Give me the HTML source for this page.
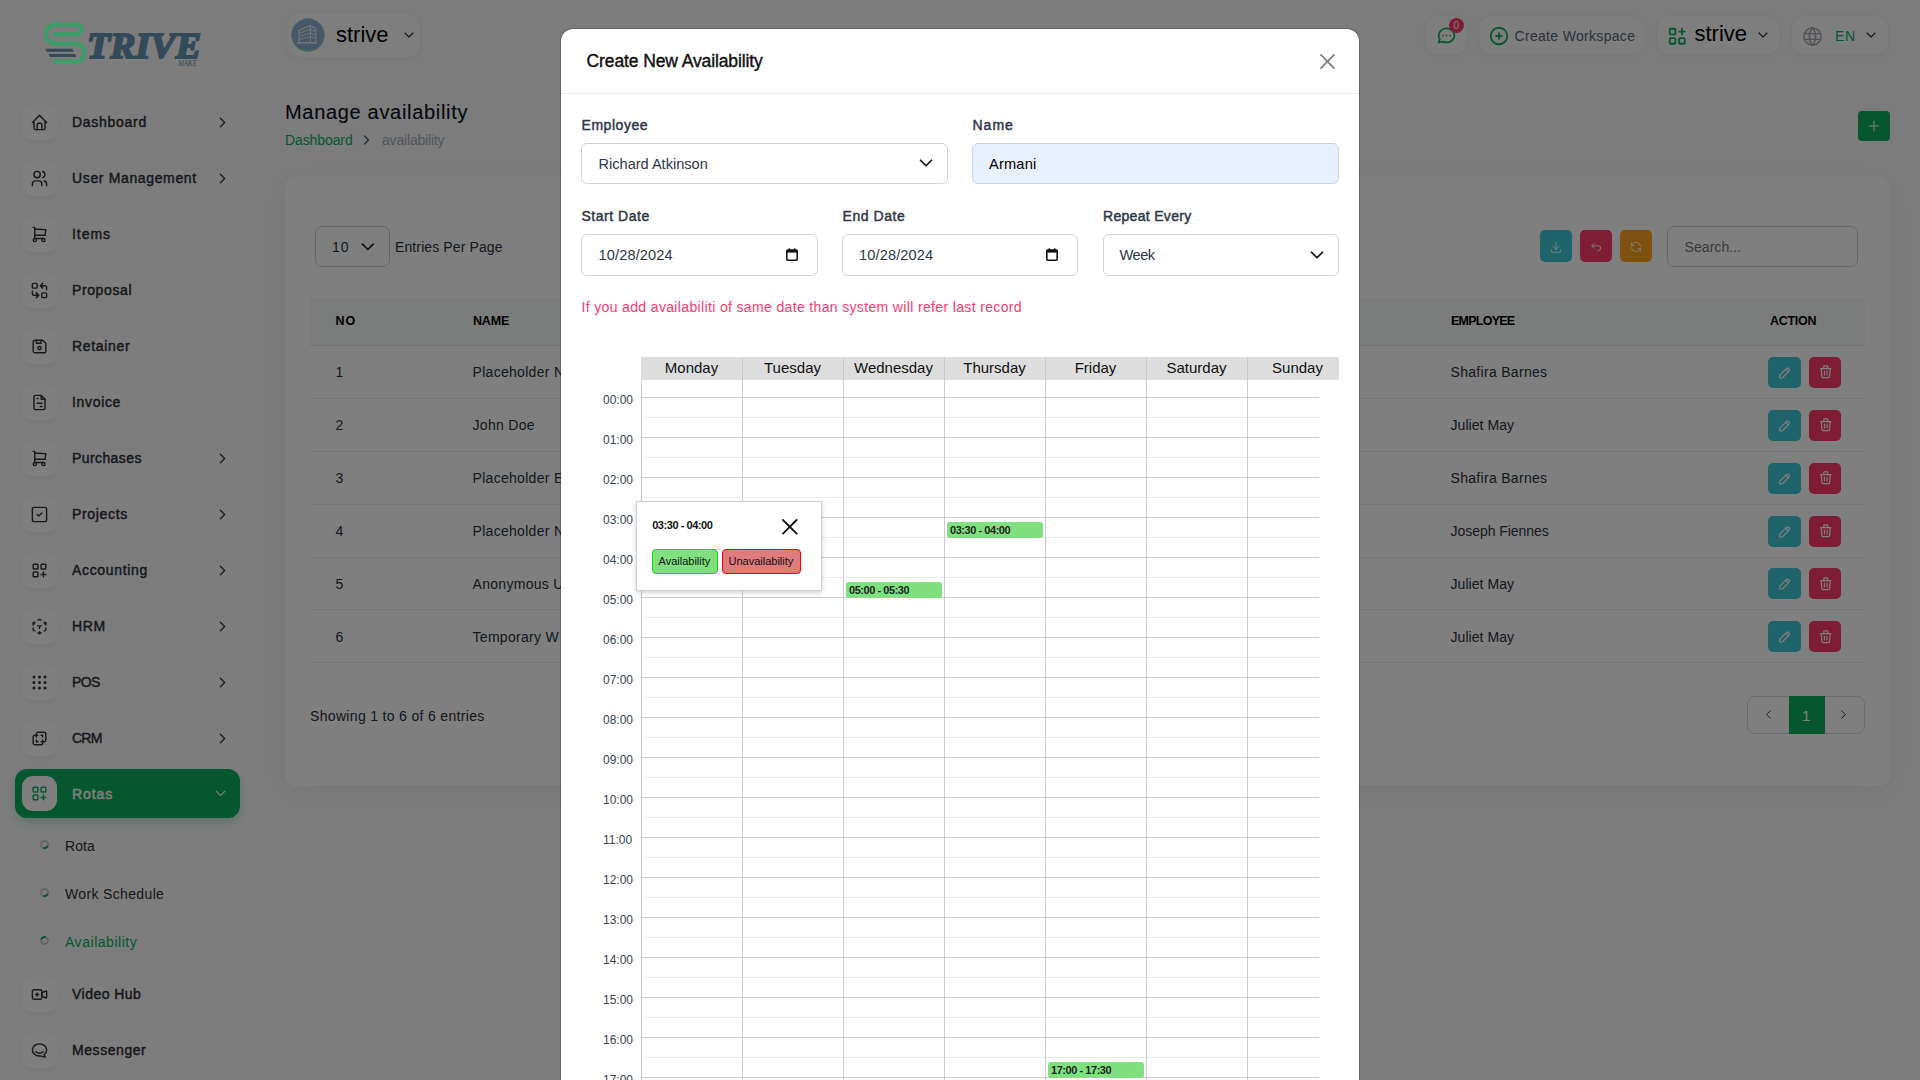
<!DOCTYPE html>
<html><head><meta charset="utf-8">
<style>
*{box-sizing:border-box;margin:0;padding:0}
html,body{width:1920px;height:1080px;overflow:hidden}
body{font-family:"Liberation Sans",sans-serif;background:#f8f9fa;color:#293240;position:relative}
.tx{position:absolute;white-space:nowrap}
.bx{position:absolute}
.ic{position:absolute;overflow:visible}
.ov{position:absolute;left:0;top:0;width:1920px;height:1080px;background:rgba(0,0,0,.5)}
</style></head>
<body>

<div class="bx" style="left:0px;top:0px;width:255px;height:1080px;background:#fbfbfc"></div>
<div class="bx" style="left:22px;top:104.5px;width:35px;height:35px;border-radius:11px;background:#fff;box-shadow:0 3px 8px rgba(0,0,0,.05)"></div>
<svg class="ic" style="left:30px;top:112.5px;width:19px;height:19px;" viewBox="0 0 24 24" fill="none" stroke="#30343b" stroke-width="1.8" stroke-linecap="round" stroke-linejoin="round"><path d="M5 12l-2 0l9 -9l9 9l-2 0"/><path d="M5 12v7a2 2 0 0 0 2 2h10a2 2 0 0 0 2 -2v-7"/><path d="M9 21v-6a2 2 0 0 1 2 -2h2a2 2 0 0 1 2 2v6"/></svg>
<div class="tx mt" style="left:72px;top:115.15px;font-size:14px;line-height:14px;color:#30343b;font-weight:normal;letter-spacing:0.725px;-webkit-text-stroke:0.45px #30343b;">Dashboard</div>
<svg class="ic" style="left:213.5px;top:113.5px;width:17px;height:17px;" viewBox="0 0 24 24" fill="none" stroke="#30343b" stroke-width="1.8" stroke-linecap="round" stroke-linejoin="round"><path d="M9 6l6 6l-6 6"/></svg>
<div class="bx" style="left:22px;top:160.5px;width:35px;height:35px;border-radius:11px;background:#fff;box-shadow:0 3px 8px rgba(0,0,0,.05)"></div>
<svg class="ic" style="left:30px;top:168.5px;width:19px;height:19px;" viewBox="0 0 24 24" fill="none" stroke="#30343b" stroke-width="1.8" stroke-linecap="round" stroke-linejoin="round"><path d="M9 7m-4 0a4 4 0 1 0 8 0a4 4 0 1 0 -8 0"/><path d="M3 21v-2a4 4 0 0 1 4 -4h4a4 4 0 0 1 4 4v2"/><path d="M16 3.13a4 4 0 0 1 0 7.75"/><path d="M21 21v-2a4 4 0 0 0 -3 -3.85"/></svg>
<div class="tx mt" style="left:72px;top:171.15px;font-size:14px;line-height:14px;color:#30343b;font-weight:normal;letter-spacing:0.643px;-webkit-text-stroke:0.45px #30343b;">User Management</div>
<svg class="ic" style="left:213.5px;top:169.5px;width:17px;height:17px;" viewBox="0 0 24 24" fill="none" stroke="#30343b" stroke-width="1.8" stroke-linecap="round" stroke-linejoin="round"><path d="M9 6l6 6l-6 6"/></svg>
<div class="bx" style="left:22px;top:216.5px;width:35px;height:35px;border-radius:11px;background:#fff;box-shadow:0 3px 8px rgba(0,0,0,.05)"></div>
<svg class="ic" style="left:30px;top:224.5px;width:19px;height:19px;" viewBox="0 0 24 24" fill="none" stroke="#30343b" stroke-width="1.8" stroke-linecap="round" stroke-linejoin="round"><path d="M6 19m-2 0a2 2 0 1 0 4 0a2 2 0 1 0 -4 0"/><path d="M17 19m-2 0a2 2 0 1 0 4 0a2 2 0 1 0 -4 0"/><path d="M17 17h-11v-14h-2"/><path d="M6 5l14 1l-1 7h-13"/></svg>
<div class="tx mt" style="left:72px;top:227.15px;font-size:14px;line-height:14px;color:#30343b;font-weight:normal;letter-spacing:0.938px;-webkit-text-stroke:0.45px #30343b;">Items</div>
<div class="bx" style="left:22px;top:272.5px;width:35px;height:35px;border-radius:11px;background:#fff;box-shadow:0 3px 8px rgba(0,0,0,.05)"></div>
<svg class="ic" style="left:30px;top:280.5px;width:19px;height:19px;" viewBox="0 0 24 24" fill="none" stroke="#30343b" stroke-width="1.8" stroke-linecap="round" stroke-linejoin="round"><path d="M3 3m0 1a1 1 0 0 1 1 -1h4a1 1 0 0 1 1 1v4a1 1 0 0 1 -1 1h-4a1 1 0 0 1 -1 -1z"/><path d="M15 15m0 1a1 1 0 0 1 1 -1h4a1 1 0 0 1 1 1v4a1 1 0 0 1 -1 1h-4a1 1 0 0 1 -1 -1z"/><path d="M21 11v-3a2 2 0 0 0 -2 -2h-6l3 3m0 -6l-3 3"/><path d="M3 13v3a2 2 0 0 0 2 2h6l-3 -3m0 6l3 -3"/></svg>
<div class="tx mt" style="left:72px;top:283.15px;font-size:14px;line-height:14px;color:#30343b;font-weight:normal;letter-spacing:0.607px;-webkit-text-stroke:0.45px #30343b;">Proposal</div>
<div class="bx" style="left:22px;top:328.5px;width:35px;height:35px;border-radius:11px;background:#fff;box-shadow:0 3px 8px rgba(0,0,0,.05)"></div>
<svg class="ic" style="left:30px;top:336.5px;width:19px;height:19px;" viewBox="0 0 24 24" fill="none" stroke="#30343b" stroke-width="1.8" stroke-linecap="round" stroke-linejoin="round"><path d="M6 4h10l4 4v10a2 2 0 0 1 -2 2h-12a2 2 0 0 1 -2 -2v-12a2 2 0 0 1 2 -2"/><path d="M12 14m-2 0a2 2 0 1 0 4 0a2 2 0 1 0 -4 0"/><path d="M14 4l0 4l-6 0l0 -4"/></svg>
<div class="tx mt" style="left:72px;top:339.15px;font-size:14px;line-height:14px;color:#30343b;font-weight:normal;letter-spacing:0.679px;-webkit-text-stroke:0.45px #30343b;">Retainer</div>
<div class="bx" style="left:22px;top:384.5px;width:35px;height:35px;border-radius:11px;background:#fff;box-shadow:0 3px 8px rgba(0,0,0,.05)"></div>
<svg class="ic" style="left:30px;top:392.5px;width:19px;height:19px;" viewBox="0 0 24 24" fill="none" stroke="#30343b" stroke-width="1.8" stroke-linecap="round" stroke-linejoin="round"><path d="M14 3v4a1 1 0 0 0 1 1h4"/><path d="M17 21h-10a2 2 0 0 1 -2 -2v-14a2 2 0 0 1 2 -2h7l5 5v11a2 2 0 0 1 -2 2z"/><path d="M9 7l1 0"/><path d="M9 13l6 0"/><path d="M13 17l2 0"/></svg>
<div class="tx mt" style="left:72px;top:395.15px;font-size:14px;line-height:14px;color:#30343b;font-weight:normal;letter-spacing:0.667px;-webkit-text-stroke:0.45px #30343b;">Invoice</div>
<div class="bx" style="left:22px;top:440.5px;width:35px;height:35px;border-radius:11px;background:#fff;box-shadow:0 3px 8px rgba(0,0,0,.05)"></div>
<svg class="ic" style="left:30px;top:448.5px;width:19px;height:19px;" viewBox="0 0 24 24" fill="none" stroke="#30343b" stroke-width="1.8" stroke-linecap="round" stroke-linejoin="round"><path d="M6 19m-2 0a2 2 0 1 0 4 0a2 2 0 1 0 -4 0"/><path d="M17 19m-2 0a2 2 0 1 0 4 0a2 2 0 1 0 -4 0"/><path d="M17 17h-11v-14h-2"/><path d="M6 5l14 1l-1 7h-13"/></svg>
<div class="tx mt" style="left:72px;top:451.15px;font-size:14px;line-height:14px;color:#30343b;font-weight:normal;letter-spacing:0.406px;-webkit-text-stroke:0.45px #30343b;">Purchases</div>
<svg class="ic" style="left:213.5px;top:449.5px;width:17px;height:17px;" viewBox="0 0 24 24" fill="none" stroke="#30343b" stroke-width="1.8" stroke-linecap="round" stroke-linejoin="round"><path d="M9 6l6 6l-6 6"/></svg>
<div class="bx" style="left:22px;top:496.5px;width:35px;height:35px;border-radius:11px;background:#fff;box-shadow:0 3px 8px rgba(0,0,0,.05)"></div>
<svg class="ic" style="left:30px;top:504.5px;width:19px;height:19px;" viewBox="0 0 24 24" fill="none" stroke="#30343b" stroke-width="1.8" stroke-linecap="round" stroke-linejoin="round"><path d="M3 3m0 2a2 2 0 0 1 2 -2h14a2 2 0 0 1 2 2v14a2 2 0 0 1 -2 2h-14a2 2 0 0 1 -2 -2z"/><path d="M9 12l2 2l4 -4"/></svg>
<div class="tx mt" style="left:72px;top:507.15px;font-size:14px;line-height:14px;color:#30343b;font-weight:normal;letter-spacing:0.679px;-webkit-text-stroke:0.45px #30343b;">Projects</div>
<svg class="ic" style="left:213.5px;top:505.5px;width:17px;height:17px;" viewBox="0 0 24 24" fill="none" stroke="#30343b" stroke-width="1.8" stroke-linecap="round" stroke-linejoin="round"><path d="M9 6l6 6l-6 6"/></svg>
<div class="bx" style="left:22px;top:552.5px;width:35px;height:35px;border-radius:11px;background:#fff;box-shadow:0 3px 8px rgba(0,0,0,.05)"></div>
<svg class="ic" style="left:30px;top:560.5px;width:19px;height:19px;" viewBox="0 0 24 24" fill="none" stroke="#30343b" stroke-width="1.8" stroke-linecap="round" stroke-linejoin="round"><path d="M4 4m0 1a1 1 0 0 1 1 -1h4a1 1 0 0 1 1 1v4a1 1 0 0 1 -1 1h-4a1 1 0 0 1 -1 -1z"/><path d="M14 4m0 1a1 1 0 0 1 1 -1h4a1 1 0 0 1 1 1v4a1 1 0 0 1 -1 1h-4a1 1 0 0 1 -1 -1z"/><path d="M4 14m0 1a1 1 0 0 1 1 -1h4a1 1 0 0 1 1 1v4a1 1 0 0 1 -1 1h-4a1 1 0 0 1 -1 -1z"/><path d="M14 17h6m-3 -3v6"/></svg>
<div class="tx mt" style="left:72px;top:563.15px;font-size:14px;line-height:14px;color:#30343b;font-weight:normal;letter-spacing:0.667px;-webkit-text-stroke:0.45px #30343b;">Accounting</div>
<svg class="ic" style="left:213.5px;top:561.5px;width:17px;height:17px;" viewBox="0 0 24 24" fill="none" stroke="#30343b" stroke-width="1.8" stroke-linecap="round" stroke-linejoin="round"><path d="M9 6l6 6l-6 6"/></svg>
<div class="bx" style="left:22px;top:608.5px;width:35px;height:35px;border-radius:11px;background:#fff;box-shadow:0 3px 8px rgba(0,0,0,.05)"></div>
<svg class="ic" style="left:30px;top:616.5px;width:19px;height:19px;" viewBox="0 0 24 24" fill="none" stroke="#30343b" stroke-width="1.8" stroke-linecap="round" stroke-linejoin="round"><path d="M6 17.6l-2 -1.1v-2.5"/><path d="M4 10v-2.5l2 -1.1"/><path d="M10 4.1l2 -1.1l2 1.1"/><path d="M18 6.4l2 1.1v2.5"/><path d="M20 14v2.5l-2 1.12"/><path d="M14 19.9l-2 1.1l-2 -1.1"/><path d="M12 12l2 -1.1"/><path d="M18 8.6l2 -1.1"/><path d="M12 12l0 2.5"/><path d="M12 18.5l0 2.5"/><path d="M12 12l-2 -1.12"/><path d="M6 8.6l-2 -1.1"/></svg>
<div class="tx mt" style="left:72px;top:619.15px;font-size:14px;line-height:14px;color:#30343b;font-weight:normal;letter-spacing:0.625px;-webkit-text-stroke:0.45px #30343b;">HRM</div>
<svg class="ic" style="left:213.5px;top:617.5px;width:17px;height:17px;" viewBox="0 0 24 24" fill="none" stroke="#30343b" stroke-width="1.8" stroke-linecap="round" stroke-linejoin="round"><path d="M9 6l6 6l-6 6"/></svg>
<div class="bx" style="left:22px;top:664.5px;width:35px;height:35px;border-radius:11px;background:#fff;box-shadow:0 3px 8px rgba(0,0,0,.05)"></div>
<svg class="ic" style="left:30px;top:672.5px;width:19px;height:19px;" viewBox="0 0 24 24" fill="none" stroke="#30343b" stroke-width="1.8" stroke-linecap="round" stroke-linejoin="round"><path d="M5 5m-1 0a1 1 0 1 0 2 0a1 1 0 1 0 -2 0"/><path d="M12 5m-1 0a1 1 0 1 0 2 0a1 1 0 1 0 -2 0"/><path d="M19 5m-1 0a1 1 0 1 0 2 0a1 1 0 1 0 -2 0"/><path d="M5 12m-1 0a1 1 0 1 0 2 0a1 1 0 1 0 -2 0"/><path d="M12 12m-1 0a1 1 0 1 0 2 0a1 1 0 1 0 -2 0"/><path d="M19 12m-1 0a1 1 0 1 0 2 0a1 1 0 1 0 -2 0"/><path d="M5 19m-1 0a1 1 0 1 0 2 0a1 1 0 1 0 -2 0"/><path d="M12 19m-1 0a1 1 0 1 0 2 0a1 1 0 1 0 -2 0"/><path d="M19 19m-1 0a1 1 0 1 0 2 0a1 1 0 1 0 -2 0"/></svg>
<div class="tx mt" style="left:72px;top:675.15px;font-size:14px;line-height:14px;color:#30343b;font-weight:normal;letter-spacing:-0.625px;-webkit-text-stroke:0.45px #30343b;">POS</div>
<svg class="ic" style="left:213.5px;top:673.5px;width:17px;height:17px;" viewBox="0 0 24 24" fill="none" stroke="#30343b" stroke-width="1.8" stroke-linecap="round" stroke-linejoin="round"><path d="M9 6l6 6l-6 6"/></svg>
<div class="bx" style="left:22px;top:720.5px;width:35px;height:35px;border-radius:11px;background:#fff;box-shadow:0 3px 8px rgba(0,0,0,.05)"></div>
<svg class="ic" style="left:30px;top:728.5px;width:19px;height:19px;" viewBox="0 0 24 24" fill="none" stroke="#30343b" stroke-width="1.8" stroke-linecap="round" stroke-linejoin="round"><path d="M16 16v2a2 2 0 0 1 -2 2h-8a2 2 0 0 1 -2 -2v-8a2 2 0 0 1 2 -2h2v-2a2 2 0 0 1 2 -2h8a2 2 0 0 1 2 2v8a2 2 0 0 1 -2 2h-2"/><path d="M10 8l-2 0l0 2"/><path d="M8 14l0 2l2 0"/><path d="M14 8l2 0l0 2"/><path d="M16 14l0 2l-2 0"/></svg>
<div class="tx mt" style="left:72px;top:731.15px;font-size:14px;line-height:14px;color:#30343b;font-weight:normal;letter-spacing:-0.750px;-webkit-text-stroke:0.45px #30343b;">CRM</div>
<svg class="ic" style="left:213.5px;top:729.5px;width:17px;height:17px;" viewBox="0 0 24 24" fill="none" stroke="#30343b" stroke-width="1.8" stroke-linecap="round" stroke-linejoin="round"><path d="M9 6l6 6l-6 6"/></svg>
<div class="bx" style="left:15px;top:769px;width:225px;height:49px;border-radius:12px;background:#0caf60;box-shadow:0 4px 10px rgba(12,175,96,.25)"></div>
<div class="bx" style="left:22px;top:776.0px;width:35px;height:35px;border-radius:11px;background:#fff;"></div>
<svg class="ic" style="left:30px;top:784.0px;width:19px;height:19px;" viewBox="0 0 24 24" fill="none" stroke="#0caf60" stroke-width="1.8" stroke-linecap="round" stroke-linejoin="round"><path d="M4 4m0 1a1 1 0 0 1 1 -1h4a1 1 0 0 1 1 1v4a1 1 0 0 1 -1 1h-4a1 1 0 0 1 -1 -1z"/><path d="M14 4m0 1a1 1 0 0 1 1 -1h4a1 1 0 0 1 1 1v4a1 1 0 0 1 -1 1h-4a1 1 0 0 1 -1 -1z"/><path d="M4 14m0 1a1 1 0 0 1 1 -1h4a1 1 0 0 1 1 1v4a1 1 0 0 1 -1 1h-4a1 1 0 0 1 -1 -1z"/><path d="M14 17h6m-3 -3v6"/></svg>
<div class="tx mt" style="left:72px;top:787.15px;font-size:14px;line-height:14px;color:#fff;font-weight:normal;letter-spacing:0.938px;-webkit-text-stroke:0.45px #fff;">Rotas</div>
<svg class="ic" style="left:211.5px;top:784.5px;width:17px;height:17px;" viewBox="0 0 24 24" fill="none" stroke="#fff" stroke-width="1.8" stroke-linecap="round" stroke-linejoin="round"><path d="M6 9l6 6l6 -6"/></svg>
<svg class="ic" style="left:39.5px;top:840px;width:9px;height:9px" viewBox="0 0 9 9"><circle cx="4.5" cy="4.5" r="3.5" fill="none" stroke="#c4c7cc" stroke-width="1.8"/><path d="M8 4.5 A3.5 3.5 0 0 1 4.5 8" transform="rotate(20 4.5 4.5)" fill="none" stroke="#0caf60" stroke-width="1.8"/></svg>
<div class="tx st" style="left:65px;top:839.15px;font-size:14px;line-height:14px;color:#30343b;font-weight:normal;letter-spacing:0.100px;">Rota</div>
<svg class="ic" style="left:39.5px;top:887.6px;width:9px;height:9px" viewBox="0 0 9 9"><circle cx="4.5" cy="4.5" r="3.5" fill="none" stroke="#c4c7cc" stroke-width="1.8"/><path d="M8 4.5 A3.5 3.5 0 0 1 4.5 8" transform="rotate(20 4.5 4.5)" fill="none" stroke="#0caf60" stroke-width="1.8"/></svg>
<div class="tx st" style="left:65px;top:886.75px;font-size:14px;line-height:14px;color:#30343b;font-weight:normal;letter-spacing:0.350px;">Work Schedule</div>
<svg class="ic" style="left:39.5px;top:935.5px;width:9px;height:9px" viewBox="0 0 9 9"><circle cx="4.5" cy="4.5" r="3.5" fill="none" stroke="#c4c7cc" stroke-width="1.8"/><path d="M8 4.5 A3.5 3.5 0 0 1 4.5 8" transform="rotate(200 4.5 4.5)" fill="none" stroke="#0caf60" stroke-width="1.8"/></svg>
<div class="tx st" style="left:65px;top:934.65px;font-size:14px;line-height:14px;color:#0caf60;font-weight:normal;letter-spacing:0.536px;">Availability</div>
<div class="bx" style="left:22px;top:976.5px;width:35px;height:35px;border-radius:11px;background:#fff;box-shadow:0 3px 8px rgba(0,0,0,.05)"></div>
<svg class="ic" style="left:30px;top:984.5px;width:19px;height:19px;" viewBox="0 0 24 24" fill="none" stroke="#30343b" stroke-width="1.8" stroke-linecap="round" stroke-linejoin="round"><path d="M15 10l4.553 -2.276a1 1 0 0 1 1.447 .894v6.764a1 1 0 0 1 -1.447 .894l-4.553 -2.276v-4z"/><path d="M3 6m0 2a2 2 0 0 1 2 -2h8a2 2 0 0 1 2 2v8a2 2 0 0 1 -2 2h-8a2 2 0 0 1 -2 -2z"/><path d="M7 12l4 0"/><path d="M9 10l0 4"/></svg>
<div class="tx mt" style="left:72px;top:987.15px;font-size:14px;line-height:14px;color:#30343b;font-weight:normal;letter-spacing:0.469px;-webkit-text-stroke:0.45px #30343b;">Video Hub</div>
<div class="bx" style="left:22px;top:1032.5px;width:35px;height:35px;border-radius:11px;background:#fff;box-shadow:0 3px 8px rgba(0,0,0,.05)"></div>
<svg class="ic" style="left:30px;top:1040.5px;width:19px;height:19px;" viewBox="0 0 24 24" fill="none" stroke="#30343b" stroke-width="1.8" stroke-linecap="round" stroke-linejoin="round"><path d="M17.802 17.292s.077 -.055 .2 -.149c1.843 -1.425 3 -3.49 3 -5.789c0 -4.286 -4.03 -7.764 -9 -7.764c-4.97 0 -9 3.478 -9 7.764c0 4.288 4.03 7.646 9 7.646c.424 0 1.12 -.028 2.088 -.084c1.262 .82 3.104 1.493 4.716 1.493c.499 0 .734 -.41 .414 -.828c-.486 -.596 -1.156 -1.551 -1.416 -2.29z"/><path d="M7.5 13.5c2.5 2.5 6.5 2.5 9 0"/></svg>
<div class="tx mt" style="left:72px;top:1043.15px;font-size:14px;line-height:14px;color:#30343b;font-weight:normal;letter-spacing:0.562px;-webkit-text-stroke:0.45px #30343b;">Messenger</div>
<div class="bx" style="left:286px;top:12px;width:135px;height:46px;border-radius:13px;background:#fcfcfd;border:1px solid #eef0f2;box-shadow:0 2px 6px rgba(0,0,0,.03)"></div>
<div class="bx" style="left:291px;top:18px;width:34px;height:34px;border-radius:50%;background:#90b0d0;border:1px solid #b5dcc0"></div>
<svg class="ic" style="left:296px;top:23px;width:24px;height:24px" viewBox="0 0 24 24">
<path d="M3 7.5 L14.4 2.4 L19.8 5.8 V19.5 H3z" fill="none" stroke="#e6eaee" stroke-width="1.2"/>
<path d="M3 10.5 L14.4 6.2 L19.8 8.8 M3 13.5 L14.4 10 L19.8 12 M3 16.5 L14.4 13.8 L19.8 15.2 M14.4 2.4 V19.5" stroke="#e6eaee" stroke-width="1.1" fill="none"/>
<rect x="1" y="19.2" width="20" height="1.4" fill="#e6eaee"/></svg>
<div class="tx hs" style="left:336px;top:23.88px;font-size:22px;line-height:22px;color:#000;font-weight:normal;">strive</div>
<svg class="ic" style="left:404px;top:31px;width:10px;height:8px;" viewBox="0 0 10 8" fill="none" stroke="#293240" stroke-width="1.2" stroke-linecap="round" stroke-linejoin="round"><path d="M1 2l4 4l4 -4"/></svg>
<div class="bx" style="left:1425px;top:15px;width:43px;height:40px;border-radius:13px;background:#fcfcfd;border:1px solid #eef0f2;box-shadow:0 2px 6px rgba(0,0,0,.03)"></div>
<svg class="ic" style="left:1436px;top:25px;width:21px;height:21px;" viewBox="0 0 24 24" fill="none" stroke="#0caf60" stroke-width="2" stroke-linecap="round" stroke-linejoin="round"><path d="M3 20l1.3 -3.9c-2.324 -3.437 -1.426 -7.872 2.1 -10.374c3.526 -2.501 8.59 -2.296 11.845 .48c3.255 2.777 3.695 7.266 1.029 10.501c-2.666 3.235 -7.615 4.215 -11.574 2.293l-4.7 1"/><path d="M12 12v.01"/><path d="M8 12v.01"/><path d="M16 12v.01"/></svg>
<div class="bx" style="left:1449px;top:17.5px;width:15px;height:15px;border-radius:50%;background:#ff3a6e"></div>
<div class="tx " style="left:1453.5px;top:20.54px;font-size:10px;line-height:10px;color:#fff;font-weight:normal;">0</div>
<div class="bx" style="left:1478px;top:15px;width:168px;height:40px;border-radius:13px;background:#fcfcfd;border:1px solid #eef0f2;box-shadow:0 2px 6px rgba(0,0,0,.03)"></div>
<svg class="ic" style="left:1488.3px;top:25px;width:22px;height:22px;" viewBox="0 0 24 24" fill="none" stroke="#0caf60" stroke-width="2" stroke-linecap="round" stroke-linejoin="round"><path d="M3 12a9 9 0 1 0 18 0a9 9 0 0 0 -18 0"/><path d="M9 12h6"/><path d="M12 9v6"/></svg>
<div class="tx hw" style="left:1514.5px;top:28.75px;font-size:14px;line-height:14px;color:#5a6478;font-weight:normal;letter-spacing:0.320px;">Create Workspace</div>
<div class="bx" style="left:1656px;top:15px;width:125px;height:40px;border-radius:13px;background:#fcfcfd;border:1px solid #eef0f2;box-shadow:0 2px 6px rgba(0,0,0,.03)"></div>
<svg class="ic" style="left:1666px;top:25px;width:22.5px;height:22.5px;" viewBox="0 0 24 24" fill="none" stroke="#0caf60" stroke-width="2" stroke-linecap="round" stroke-linejoin="round"><path d="M4 4m0 1a1 1 0 0 1 1 -1h4a1 1 0 0 1 1 1v4a1 1 0 0 1 -1 1h-4a1 1 0 0 1 -1 -1z"/><path d="M4 14m0 1a1 1 0 0 1 1 -1h4a1 1 0 0 1 1 1v4a1 1 0 0 1 -1 1h-4a1 1 0 0 1 -1 -1z"/><path d="M14 14m0 1a1 1 0 0 1 1 -1h4a1 1 0 0 1 1 1v4a1 1 0 0 1 -1 1h-4a1 1 0 0 1 -1 -1z"/><path d="M14 7h6m-3 -3v6"/></svg>
<div class="tx hs" style="left:1694.5px;top:23.18px;font-size:22px;line-height:22px;color:#000;font-weight:normal;">strive</div>
<svg class="ic" style="left:1758px;top:31px;width:10px;height:8px;" viewBox="0 0 10 8" fill="none" stroke="#293240" stroke-width="1.2" stroke-linecap="round" stroke-linejoin="round"><path d="M1 2l4 4l4 -4"/></svg>
<div class="bx" style="left:1791px;top:15px;width:98px;height:40px;border-radius:13px;background:#fcfcfd;border:1px solid #eef0f2;box-shadow:0 2px 6px rgba(0,0,0,.03)"></div>
<svg class="ic" style="left:1800.5px;top:24.5px;width:23px;height:23px;" viewBox="0 0 24 24" fill="none" stroke="#a0a5ad" stroke-width="1.5" stroke-linecap="round" stroke-linejoin="round"><path d="M3 12a9 9 0 1 0 18 0a9 9 0 0 0 -18 0"/><path d="M3.6 9h16.8"/><path d="M3.6 15h16.8"/><path d="M11.5 3a17 17 0 0 0 0 18"/><path d="M12.5 3a17 17 0 0 1 0 18"/></svg>
<div class="tx hen" style="left:1835px;top:29.05px;font-size:14px;line-height:14px;color:#0caf60;font-weight:normal;letter-spacing:0.600px;">EN</div>
<svg class="ic" style="left:1866px;top:31px;width:10px;height:8px;" viewBox="0 0 10 8" fill="none" stroke="#293240" stroke-width="1.2" stroke-linecap="round" stroke-linejoin="round"><path d="M1 2l4 4l4 -4"/></svg>
<div class="tx ttl" style="left:285px;top:102.07px;font-size:20px;line-height:20px;color:#0d1322;font-weight:normal;letter-spacing:0.683px;-webkit-text-stroke:0.15px #0d1322;">Manage availability</div>
<div class="tx bc" style="left:285px;top:132.95px;font-size:14px;line-height:14px;color:#0caf60;font-weight:normal;letter-spacing:-0.100px;">Dashboard</div>
<svg class="ic" style="left:362px;top:135px;width:9px;height:10px;" viewBox="0 0 9 10" fill="none" stroke="#4a5361" stroke-width="1.3" stroke-linecap="round" stroke-linejoin="round"><path d="M2.5 1l4 4l-4 4"/></svg>
<div class="tx bc" style="left:382px;top:132.95px;font-size:14px;line-height:14px;color:#a5acb5;font-weight:normal;letter-spacing:-0.182px;">availability</div>
<div class="bx" style="left:1858px;top:110.5px;width:32px;height:30px;border-radius:4px;background:#0caf60"></div>
<svg class="ic" style="left:1866px;top:117.5px;width:16px;height:16px;" viewBox="0 0 24 24" fill="none" stroke="#fff" stroke-width="1.6" stroke-linecap="round" stroke-linejoin="round"><path d="M12 5l0 14"/><path d="M5 12l14 0"/></svg>
<div class="bx" style="left:285px;top:176px;width:1605px;height:610px;border-radius:12px;background:#fff;box-shadow:0 6px 30px rgba(0,0,0,.05)"></div>
<div class="bx" style="left:315px;top:226px;width:75px;height:41px;border-radius:7px;border:1px solid #c9ced4;background:#fff"></div>
<div class="tx cd" style="left:332px;top:240.15px;font-size:14px;line-height:14px;color:#293240;font-weight:normal;letter-spacing:1.000px;">10</div>
<svg class="ic" style="left:357.3px;top:235.5px;width:21.6px;height:21.6px;" viewBox="0 0 24 24" fill="none" stroke="#1a1f2b" stroke-width="1.9" stroke-linecap="round" stroke-linejoin="round"><path d="M6 9l6 6l6 -6"/></svg>
<div class="tx epp" style="left:395px;top:240.15px;font-size:14px;line-height:14px;color:#293240;font-weight:normal;letter-spacing:0.113px;">Entries Per Page</div>
<div class="bx" style="left:1540px;top:230px;width:32px;height:32px;border-radius:5px;background:#3ec9d6"></div>
<svg class="ic" style="left:1549px;top:239.5px;width:14px;height:14px;" viewBox="0 0 24 24" fill="none" stroke="#fff" stroke-width="1.6" stroke-linecap="round" stroke-linejoin="round"><path d="M4 17v2a2 2 0 0 0 2 2h12a2 2 0 0 0 2 -2v-2"/><path d="M7 11l5 5l5 -5"/><path d="M12 4l0 12"/></svg>
<div class="bx" style="left:1580px;top:230px;width:32px;height:32px;border-radius:5px;background:#ff3a6e"></div>
<svg class="ic" style="left:1589px;top:239.5px;width:14px;height:14px;" viewBox="0 0 24 24" fill="none" stroke="#fff" stroke-width="1.6" stroke-linecap="round" stroke-linejoin="round"><path d="M9 14l-4 -4l4 -4"/><path d="M5 10h11a4 4 0 1 1 0 8h-1"/></svg>
<div class="bx" style="left:1620px;top:230px;width:32px;height:32px;border-radius:5px;background:#ffa21d"></div>
<svg class="ic" style="left:1629px;top:239.5px;width:14px;height:14px;" viewBox="0 0 24 24" fill="none" stroke="#fff" stroke-width="1.6" stroke-linecap="round" stroke-linejoin="round"><path d="M20 11a8.1 8.1 0 0 0 -15.5 -2m-.5 -4v4h4"/><path d="M4 13a8.1 8.1 0 0 0 15.5 2m.5 4v-4h-4"/></svg>
<div class="bx" style="left:1667px;top:226px;width:191px;height:41px;border-radius:7px;border:1px solid #c9ced4;background:#fff"></div>
<div class="tx srch" style="left:1684.5px;top:239.95px;font-size:14px;line-height:14px;color:#6c757d;font-weight:normal;letter-spacing:0.075px;">Search...</div>
<div class="bx" style="left:310px;top:298px;width:1555px;height:48px;background:#f7f8f9;border-bottom:1px solid #e9ebee"></div>
<div class="tx th" style="left:335.5px;top:315.22px;font-size:12.5px;line-height:12.5px;color:#000;font-weight:bold;letter-spacing:1.000px;">NO</div>
<div class="tx th" style="left:473px;top:315.22px;font-size:12.5px;line-height:12.5px;color:#000;font-weight:bold;letter-spacing:-0.167px;">NAME</div>
<div class="tx th" style="left:1451px;top:315.22px;font-size:12.5px;line-height:12.5px;color:#000;font-weight:bold;letter-spacing:-0.757px;">EMPLOYEE</div>
<div class="tx th" style="left:1770px;top:315.22px;font-size:12.5px;line-height:12.5px;color:#000;font-weight:bold;letter-spacing:-0.280px;">ACTION</div>
<div class="bx" style="left:310px;top:397.8px;width:1555px;height:1px;background:#e9ebee"></div>
<div class="tx td" style="left:335.5px;top:365.45px;font-size:14px;line-height:14px;color:#293240;font-weight:normal;letter-spacing:0.300px;">1</div>
<div class="tx td" style="left:472.5px;top:365.45px;font-size:14px;line-height:14px;color:#293240;font-weight:normal;letter-spacing:0.300px;">Placeholder N</div>
<div class="tx td" style="left:1450.5px;top:365.45px;font-size:14px;line-height:14px;color:#293240;font-weight:normal;letter-spacing:0.308px;">Shafira Barnes</div>
<div class="bx" style="left:1768px;top:356.8px;width:33px;height:31px;border-radius:5px;background:#3ec9d6"></div>
<svg class="ic" style="left:1777px;top:364.8px;width:15.6px;height:15.6px;" viewBox="0 0 24 24" fill="none" stroke="#fff" stroke-width="1.9" stroke-linecap="round" stroke-linejoin="round"><path d="M4 20h4l10.5 -10.5a2.828 2.828 0 1 0 -4 -4l-10.5 10.5v4"/><path d="M13.5 6.5l4 4"/></svg>
<div class="bx" style="left:1809px;top:356.8px;width:32px;height:31px;border-radius:5px;background:#ff3a6e"></div>
<svg class="ic" style="left:1817.5px;top:364.3px;width:15.5px;height:15.5px;" viewBox="0 0 24 24" fill="none" stroke="#fff" stroke-width="1.9" stroke-linecap="round" stroke-linejoin="round"><path d="M4 7l16 0"/><path d="M10 11l0 6"/><path d="M14 11l0 6"/><path d="M5 7l1 12a2 2 0 0 0 2 2h8a2 2 0 0 0 2 -2l1 -12"/><path d="M9 7v-3a1 1 0 0 1 1 -1h4a1 1 0 0 1 1 1v3"/></svg>
<div class="bx" style="left:310px;top:450.7px;width:1555px;height:1px;background:#e9ebee"></div>
<div class="tx td" style="left:335.5px;top:418.35px;font-size:14px;line-height:14px;color:#293240;font-weight:normal;letter-spacing:0.300px;">2</div>
<div class="tx td" style="left:472.5px;top:418.35px;font-size:14px;line-height:14px;color:#293240;font-weight:normal;letter-spacing:0.300px;">John Doe</div>
<div class="tx td" style="left:1450.5px;top:418.35px;font-size:14px;line-height:14px;color:#293240;font-weight:normal;letter-spacing:0.056px;">Juliet May</div>
<div class="bx" style="left:1768px;top:409.7px;width:33px;height:31px;border-radius:5px;background:#3ec9d6"></div>
<svg class="ic" style="left:1777px;top:417.7px;width:15.6px;height:15.6px;" viewBox="0 0 24 24" fill="none" stroke="#fff" stroke-width="1.9" stroke-linecap="round" stroke-linejoin="round"><path d="M4 20h4l10.5 -10.5a2.828 2.828 0 1 0 -4 -4l-10.5 10.5v4"/><path d="M13.5 6.5l4 4"/></svg>
<div class="bx" style="left:1809px;top:409.7px;width:32px;height:31px;border-radius:5px;background:#ff3a6e"></div>
<svg class="ic" style="left:1817.5px;top:417.2px;width:15.5px;height:15.5px;" viewBox="0 0 24 24" fill="none" stroke="#fff" stroke-width="1.9" stroke-linecap="round" stroke-linejoin="round"><path d="M4 7l16 0"/><path d="M10 11l0 6"/><path d="M14 11l0 6"/><path d="M5 7l1 12a2 2 0 0 0 2 2h8a2 2 0 0 0 2 -2l1 -12"/><path d="M9 7v-3a1 1 0 0 1 1 -1h4a1 1 0 0 1 1 1v3"/></svg>
<div class="bx" style="left:310px;top:503.6px;width:1555px;height:1px;background:#e9ebee"></div>
<div class="tx td" style="left:335.5px;top:471.25px;font-size:14px;line-height:14px;color:#293240;font-weight:normal;letter-spacing:0.300px;">3</div>
<div class="tx td" style="left:472.5px;top:471.25px;font-size:14px;line-height:14px;color:#293240;font-weight:normal;letter-spacing:0.300px;">Placeholder E</div>
<div class="tx td" style="left:1450.5px;top:471.25px;font-size:14px;line-height:14px;color:#293240;font-weight:normal;letter-spacing:0.308px;">Shafira Barnes</div>
<div class="bx" style="left:1768px;top:462.6px;width:33px;height:31px;border-radius:5px;background:#3ec9d6"></div>
<svg class="ic" style="left:1777px;top:470.6px;width:15.6px;height:15.6px;" viewBox="0 0 24 24" fill="none" stroke="#fff" stroke-width="1.9" stroke-linecap="round" stroke-linejoin="round"><path d="M4 20h4l10.5 -10.5a2.828 2.828 0 1 0 -4 -4l-10.5 10.5v4"/><path d="M13.5 6.5l4 4"/></svg>
<div class="bx" style="left:1809px;top:462.6px;width:32px;height:31px;border-radius:5px;background:#ff3a6e"></div>
<svg class="ic" style="left:1817.5px;top:470.1px;width:15.5px;height:15.5px;" viewBox="0 0 24 24" fill="none" stroke="#fff" stroke-width="1.9" stroke-linecap="round" stroke-linejoin="round"><path d="M4 7l16 0"/><path d="M10 11l0 6"/><path d="M14 11l0 6"/><path d="M5 7l1 12a2 2 0 0 0 2 2h8a2 2 0 0 0 2 -2l1 -12"/><path d="M9 7v-3a1 1 0 0 1 1 -1h4a1 1 0 0 1 1 1v3"/></svg>
<div class="bx" style="left:310px;top:556.5px;width:1555px;height:1px;background:#e9ebee"></div>
<div class="tx td" style="left:335.5px;top:524.15px;font-size:14px;line-height:14px;color:#293240;font-weight:normal;letter-spacing:0.300px;">4</div>
<div class="tx td" style="left:472.5px;top:524.15px;font-size:14px;line-height:14px;color:#293240;font-weight:normal;letter-spacing:0.300px;">Placeholder N</div>
<div class="tx td" style="left:1450.5px;top:524.15px;font-size:14px;line-height:14px;color:#293240;font-weight:normal;letter-spacing:-0.038px;">Joseph Fiennes</div>
<div class="bx" style="left:1768px;top:515.5px;width:33px;height:31px;border-radius:5px;background:#3ec9d6"></div>
<svg class="ic" style="left:1777px;top:523.5px;width:15.6px;height:15.6px;" viewBox="0 0 24 24" fill="none" stroke="#fff" stroke-width="1.9" stroke-linecap="round" stroke-linejoin="round"><path d="M4 20h4l10.5 -10.5a2.828 2.828 0 1 0 -4 -4l-10.5 10.5v4"/><path d="M13.5 6.5l4 4"/></svg>
<div class="bx" style="left:1809px;top:515.5px;width:32px;height:31px;border-radius:5px;background:#ff3a6e"></div>
<svg class="ic" style="left:1817.5px;top:523.0px;width:15.5px;height:15.5px;" viewBox="0 0 24 24" fill="none" stroke="#fff" stroke-width="1.9" stroke-linecap="round" stroke-linejoin="round"><path d="M4 7l16 0"/><path d="M10 11l0 6"/><path d="M14 11l0 6"/><path d="M5 7l1 12a2 2 0 0 0 2 2h8a2 2 0 0 0 2 -2l1 -12"/><path d="M9 7v-3a1 1 0 0 1 1 -1h4a1 1 0 0 1 1 1v3"/></svg>
<div class="bx" style="left:310px;top:609.4px;width:1555px;height:1px;background:#e9ebee"></div>
<div class="tx td" style="left:335.5px;top:577.05px;font-size:14px;line-height:14px;color:#293240;font-weight:normal;letter-spacing:0.300px;">5</div>
<div class="tx td" style="left:472.5px;top:577.05px;font-size:14px;line-height:14px;color:#293240;font-weight:normal;letter-spacing:0.300px;">Anonymous U</div>
<div class="tx td" style="left:1450.5px;top:577.05px;font-size:14px;line-height:14px;color:#293240;font-weight:normal;letter-spacing:0.056px;">Juliet May</div>
<div class="bx" style="left:1768px;top:568.4px;width:33px;height:31px;border-radius:5px;background:#3ec9d6"></div>
<svg class="ic" style="left:1777px;top:576.4px;width:15.6px;height:15.6px;" viewBox="0 0 24 24" fill="none" stroke="#fff" stroke-width="1.9" stroke-linecap="round" stroke-linejoin="round"><path d="M4 20h4l10.5 -10.5a2.828 2.828 0 1 0 -4 -4l-10.5 10.5v4"/><path d="M13.5 6.5l4 4"/></svg>
<div class="bx" style="left:1809px;top:568.4px;width:32px;height:31px;border-radius:5px;background:#ff3a6e"></div>
<svg class="ic" style="left:1817.5px;top:575.9px;width:15.5px;height:15.5px;" viewBox="0 0 24 24" fill="none" stroke="#fff" stroke-width="1.9" stroke-linecap="round" stroke-linejoin="round"><path d="M4 7l16 0"/><path d="M10 11l0 6"/><path d="M14 11l0 6"/><path d="M5 7l1 12a2 2 0 0 0 2 2h8a2 2 0 0 0 2 -2l1 -12"/><path d="M9 7v-3a1 1 0 0 1 1 -1h4a1 1 0 0 1 1 1v3"/></svg>
<div class="bx" style="left:310px;top:662.3px;width:1555px;height:1px;background:#e9ebee"></div>
<div class="tx td" style="left:335.5px;top:629.95px;font-size:14px;line-height:14px;color:#293240;font-weight:normal;letter-spacing:0.300px;">6</div>
<div class="tx td" style="left:472.5px;top:629.95px;font-size:14px;line-height:14px;color:#293240;font-weight:normal;letter-spacing:0.300px;">Temporary W</div>
<div class="tx td" style="left:1450.5px;top:629.95px;font-size:14px;line-height:14px;color:#293240;font-weight:normal;letter-spacing:0.056px;">Juliet May</div>
<div class="bx" style="left:1768px;top:621.3px;width:33px;height:31px;border-radius:5px;background:#3ec9d6"></div>
<svg class="ic" style="left:1777px;top:629.3px;width:15.6px;height:15.6px;" viewBox="0 0 24 24" fill="none" stroke="#fff" stroke-width="1.9" stroke-linecap="round" stroke-linejoin="round"><path d="M4 20h4l10.5 -10.5a2.828 2.828 0 1 0 -4 -4l-10.5 10.5v4"/><path d="M13.5 6.5l4 4"/></svg>
<div class="bx" style="left:1809px;top:621.3px;width:32px;height:31px;border-radius:5px;background:#ff3a6e"></div>
<svg class="ic" style="left:1817.5px;top:628.8px;width:15.5px;height:15.5px;" viewBox="0 0 24 24" fill="none" stroke="#fff" stroke-width="1.9" stroke-linecap="round" stroke-linejoin="round"><path d="M4 7l16 0"/><path d="M10 11l0 6"/><path d="M14 11l0 6"/><path d="M5 7l1 12a2 2 0 0 0 2 2h8a2 2 0 0 0 2 -2l1 -12"/><path d="M9 7v-3a1 1 0 0 1 1 -1h4a1 1 0 0 1 1 1v3"/></svg>
<div class="tx show" style="left:310px;top:709.15px;font-size:14px;line-height:14px;color:#293240;font-weight:normal;letter-spacing:0.327px;">Showing 1 to 6 of 6 entries</div>
<div class="bx" style="left:1747px;top:696px;width:118px;height:38px;border-radius:8px;border:1px solid #d6d9de;background:#fff"></div>
<div class="bx" style="left:1789px;top:696px;width:36px;height:38px;background:#0caf60"></div>
<div class="tx " style="left:1802px;top:708.30px;font-size:15px;line-height:15px;color:#fff;font-weight:normal;">1</div>
<svg class="ic" style="left:1761px;top:707px;width:15px;height:15px;" viewBox="0 0 24 24" fill="none" stroke="#293240" stroke-width="1.5" stroke-linecap="round" stroke-linejoin="round"><path d="M15 6l-6 6l6 6"/></svg>
<svg class="ic" style="left:1836px;top:707px;width:15px;height:15px;" viewBox="0 0 24 24" fill="none" stroke="#293240" stroke-width="1.5" stroke-linecap="round" stroke-linejoin="round"><path d="M9 6l6 6l-6 6"/></svg>
<div class="ov"></div>
<svg class="ic" style="left:0px;top:0px;width:240px;height:80px" viewBox="0 0 240 80">
<path d="M54.6 34.2 H77 A4.7 4.7 0 0 0 77 24.8 H55.2 A9.35 9.35 0 0 0 55.2 43.5 H75.3 A9.15 9.15 0 0 1 75.3 61.8 H55.5" fill="none" stroke="#3d9c6a" stroke-width="4.6" stroke-linecap="round"/>
<path d="M45 48.8 H71.5 Q72.5 48.8 73 50 L73.6 51.8 H46.5z M48.4 53.9 H74.2 Q75.2 53.9 75.7 55 L76.3 56.9 H49.9z" fill="#354a58"/>
<text x="87" y="57.8" font-family="Liberation Serif" font-weight="bold" font-style="italic" font-size="35" fill="#354a58" stroke="#354a58" stroke-width="1.9" textLength="114" lengthAdjust="spacingAndGlyphs">TRIVE</text>
<text x="178" y="66" font-family="Liberation Serif" font-style="italic" font-size="7.5" fill="#354a58" textLength="19" lengthAdjust="spacingAndGlyphs">MAKE</text>
</svg>
<div class="bx" style="left:560px;top:28px;width:800px;height:1100px;border-radius:13px 13px 0 0;background:#fff;background-clip:padding-box;border:1px solid rgba(0,0,0,.2)"></div>
<div class="tx mtitle" style="left:586.5px;top:52.59px;font-size:17.5px;line-height:17.5px;color:#111;font-weight:normal;letter-spacing:-0.105px;-webkit-text-stroke:0.4px #111;">Create New Availability</div>
<div class="bx" style="left:561px;top:92.5px;width:798px;height:1px;background:#e9ecef"></div>
<svg class="ic" style="left:1319.5px;top:53.5px;width:15px;height:15px;" viewBox="0 0 16 16" fill="none" stroke="#7a7a7a" stroke-width="1.7" stroke-linecap="round" stroke-linejoin="round"><path d="M1 1L15 15"/><path d="M15 1L1 15"/></svg>
<div class="tx lbl" style="left:581.5px;top:117.95px;font-size:14px;line-height:14px;color:#2d3748;font-weight:normal;letter-spacing:0.557px;-webkit-text-stroke:0.45px #2d3748;">Employee</div>
<div class="tx lbl" style="left:972.5px;top:117.95px;font-size:14px;line-height:14px;color:#2d3748;font-weight:normal;letter-spacing:1.000px;-webkit-text-stroke:0.45px #2d3748;">Name</div>
<div class="bx" style="left:581px;top:143px;width:367px;height:41px;border-radius:6px;border:1px solid #ced4da;background:#fff"></div>
<div class="tx inp" style="left:598.5px;top:156.84px;font-size:14.6px;line-height:14.6px;color:#2d3748;font-weight:normal;letter-spacing:-0.017px;">Richard Atkinson</div>
<svg class="ic" style="left:915.25px;top:152.3px;width:22px;height:22px;" viewBox="0 0 24 24" fill="none" stroke="#111" stroke-width="1.9" stroke-linecap="round" stroke-linejoin="round"><path d="M6 9l6 6l6 -6"/></svg>
<div class="bx" style="left:972px;top:143px;width:367px;height:41px;border-radius:6px;border:1px solid #ced4da;background:#e8f0fe"></div>
<div class="tx inp" style="left:989px;top:156.84px;font-size:14.6px;line-height:14.6px;color:#000;font-weight:normal;letter-spacing:0.200px;">Armani</div>
<div class="tx lbl" style="left:581.5px;top:209.15px;font-size:14px;line-height:14px;color:#2d3748;font-weight:normal;letter-spacing:0.522px;-webkit-text-stroke:0.45px #2d3748;">Start Date</div>
<div class="tx lbl" style="left:842.5px;top:209.15px;font-size:14px;line-height:14px;color:#2d3748;font-weight:normal;letter-spacing:0.543px;-webkit-text-stroke:0.45px #2d3748;">End Date</div>
<div class="tx lbl" style="left:1103px;top:209.15px;font-size:14px;line-height:14px;color:#2d3748;font-weight:normal;letter-spacing:0.309px;-webkit-text-stroke:0.45px #2d3748;">Repeat Every</div>
<div class="bx" style="left:581px;top:234px;width:237px;height:41.5px;border-radius:6px;border:1px solid #ced4da;background:#fff"></div>
<div class="bx" style="left:842px;top:234px;width:236px;height:41.5px;border-radius:6px;border:1px solid #ced4da;background:#fff"></div>
<div class="bx" style="left:1102.5px;top:234px;width:236.5px;height:41.5px;border-radius:6px;border:1px solid #ced4da;background:#fff"></div>
<div class="tx inp" style="left:598.5px;top:247.54px;font-size:14.6px;line-height:14.6px;color:#2d3748;font-weight:normal;letter-spacing:0.122px;">10/28/2024</div>
<div class="tx inp" style="left:859px;top:247.54px;font-size:14.6px;line-height:14.6px;color:#2d3748;font-weight:normal;letter-spacing:0.122px;">10/28/2024</div>
<svg class="ic" style="left:786px;top:248px;width:12px;height:13px" viewBox="0 0 12 13"><rect x="0.8" y="2" width="10.4" height="10.2" fill="none" stroke="#111" stroke-width="1.6" rx="1"/><rect x="0.8" y="2" width="10.4" height="2.6" fill="#111"/><rect x="2.6" y="0.3" width="1.5" height="2" fill="#111"/><rect x="7.9" y="0.3" width="1.5" height="2" fill="#111"/></svg>
<svg class="ic" style="left:1046px;top:248px;width:12px;height:13px" viewBox="0 0 12 13"><rect x="0.8" y="2" width="10.4" height="10.2" fill="none" stroke="#111" stroke-width="1.6" rx="1"/><rect x="0.8" y="2" width="10.4" height="2.6" fill="#111"/><rect x="2.6" y="0.3" width="1.5" height="2" fill="#111"/><rect x="7.9" y="0.3" width="1.5" height="2" fill="#111"/></svg>
<div class="tx inp" style="left:1119.5px;top:247.54px;font-size:14.6px;line-height:14.6px;color:#2d3748;font-weight:normal;letter-spacing:-0.467px;">Week</div>
<svg class="ic" style="left:1305.9px;top:243.5px;width:22px;height:22px;" viewBox="0 0 24 24" fill="none" stroke="#111" stroke-width="1.9" stroke-linecap="round" stroke-linejoin="round"><path d="M6 9l6 6l6 -6"/></svg>
<div class="tx warn" style="left:581.5px;top:300.25px;font-size:14px;line-height:14px;color:#ff3a6e;font-weight:normal;letter-spacing:0.351px;">If you add availabiliti of same date than system will refer last record</div>
<div class="bx" style="left:641px;top:357px;width:698px;height:23px;background:#dddddd"></div>
<div class="tx" style="left:641px;top:360.00px;width:101px;text-align:center;font-size:15px;line-height:15px;color:#111">Monday</div>
<div class="bx" style="left:742px;top:357px;width:1px;height:23px;background:#c8c8c8"></div>
<div class="tx" style="left:742px;top:360.00px;width:101px;text-align:center;font-size:15px;line-height:15px;color:#111">Tuesday</div>
<div class="bx" style="left:843px;top:357px;width:1px;height:23px;background:#c8c8c8"></div>
<div class="tx" style="left:843px;top:360.00px;width:101px;text-align:center;font-size:15px;line-height:15px;color:#111">Wednesday</div>
<div class="bx" style="left:944px;top:357px;width:1px;height:23px;background:#c8c8c8"></div>
<div class="tx" style="left:944px;top:360.00px;width:101px;text-align:center;font-size:15px;line-height:15px;color:#111">Thursday</div>
<div class="bx" style="left:1045px;top:357px;width:1px;height:23px;background:#c8c8c8"></div>
<div class="tx" style="left:1045px;top:360.00px;width:101px;text-align:center;font-size:15px;line-height:15px;color:#111">Friday</div>
<div class="bx" style="left:1146px;top:357px;width:1px;height:23px;background:#c8c8c8"></div>
<div class="tx" style="left:1146px;top:360.00px;width:101px;text-align:center;font-size:15px;line-height:15px;color:#111">Saturday</div>
<div class="bx" style="left:1247px;top:357px;width:1px;height:23px;background:#c8c8c8"></div>
<div class="tx" style="left:1247px;top:360.00px;width:101px;text-align:center;font-size:15px;line-height:15px;color:#111">Sunday</div>
<div class="bx" style="left:641px;top:397px;width:678px;height:1px;background:#cccccc"></div>
<div class="bx" style="left:641px;top:417px;width:678px;height:1px;background:#ececec"></div>
<div class="tx tl" style="left:603px;top:394.14px;font-size:12px;line-height:12px;color:#3a4350;font-weight:normal;">00:00</div>
<div class="bx" style="left:641px;top:437px;width:678px;height:1px;background:#cccccc"></div>
<div class="bx" style="left:641px;top:457px;width:678px;height:1px;background:#ececec"></div>
<div class="tx tl" style="left:603px;top:434.14px;font-size:12px;line-height:12px;color:#3a4350;font-weight:normal;">01:00</div>
<div class="bx" style="left:641px;top:477px;width:678px;height:1px;background:#cccccc"></div>
<div class="bx" style="left:641px;top:497px;width:678px;height:1px;background:#ececec"></div>
<div class="tx tl" style="left:603px;top:474.14px;font-size:12px;line-height:12px;color:#3a4350;font-weight:normal;">02:00</div>
<div class="bx" style="left:641px;top:517px;width:678px;height:1px;background:#cccccc"></div>
<div class="bx" style="left:641px;top:537px;width:678px;height:1px;background:#ececec"></div>
<div class="tx tl" style="left:603px;top:514.14px;font-size:12px;line-height:12px;color:#3a4350;font-weight:normal;">03:00</div>
<div class="bx" style="left:641px;top:557px;width:678px;height:1px;background:#cccccc"></div>
<div class="bx" style="left:641px;top:577px;width:678px;height:1px;background:#ececec"></div>
<div class="tx tl" style="left:603px;top:554.14px;font-size:12px;line-height:12px;color:#3a4350;font-weight:normal;">04:00</div>
<div class="bx" style="left:641px;top:597px;width:678px;height:1px;background:#cccccc"></div>
<div class="bx" style="left:641px;top:617px;width:678px;height:1px;background:#ececec"></div>
<div class="tx tl" style="left:603px;top:594.14px;font-size:12px;line-height:12px;color:#3a4350;font-weight:normal;">05:00</div>
<div class="bx" style="left:641px;top:637px;width:678px;height:1px;background:#cccccc"></div>
<div class="bx" style="left:641px;top:657px;width:678px;height:1px;background:#ececec"></div>
<div class="tx tl" style="left:603px;top:634.14px;font-size:12px;line-height:12px;color:#3a4350;font-weight:normal;">06:00</div>
<div class="bx" style="left:641px;top:677px;width:678px;height:1px;background:#cccccc"></div>
<div class="bx" style="left:641px;top:697px;width:678px;height:1px;background:#ececec"></div>
<div class="tx tl" style="left:603px;top:674.14px;font-size:12px;line-height:12px;color:#3a4350;font-weight:normal;">07:00</div>
<div class="bx" style="left:641px;top:717px;width:678px;height:1px;background:#cccccc"></div>
<div class="bx" style="left:641px;top:737px;width:678px;height:1px;background:#ececec"></div>
<div class="tx tl" style="left:603px;top:714.14px;font-size:12px;line-height:12px;color:#3a4350;font-weight:normal;">08:00</div>
<div class="bx" style="left:641px;top:757px;width:678px;height:1px;background:#cccccc"></div>
<div class="bx" style="left:641px;top:777px;width:678px;height:1px;background:#ececec"></div>
<div class="tx tl" style="left:603px;top:754.14px;font-size:12px;line-height:12px;color:#3a4350;font-weight:normal;">09:00</div>
<div class="bx" style="left:641px;top:797px;width:678px;height:1px;background:#cccccc"></div>
<div class="bx" style="left:641px;top:817px;width:678px;height:1px;background:#ececec"></div>
<div class="tx tl" style="left:603px;top:794.14px;font-size:12px;line-height:12px;color:#3a4350;font-weight:normal;">10:00</div>
<div class="bx" style="left:641px;top:837px;width:678px;height:1px;background:#cccccc"></div>
<div class="bx" style="left:641px;top:857px;width:678px;height:1px;background:#ececec"></div>
<div class="tx tl" style="left:603px;top:834.14px;font-size:12px;line-height:12px;color:#3a4350;font-weight:normal;">11:00</div>
<div class="bx" style="left:641px;top:877px;width:678px;height:1px;background:#cccccc"></div>
<div class="bx" style="left:641px;top:897px;width:678px;height:1px;background:#ececec"></div>
<div class="tx tl" style="left:603px;top:874.14px;font-size:12px;line-height:12px;color:#3a4350;font-weight:normal;">12:00</div>
<div class="bx" style="left:641px;top:917px;width:678px;height:1px;background:#cccccc"></div>
<div class="bx" style="left:641px;top:937px;width:678px;height:1px;background:#ececec"></div>
<div class="tx tl" style="left:603px;top:914.14px;font-size:12px;line-height:12px;color:#3a4350;font-weight:normal;">13:00</div>
<div class="bx" style="left:641px;top:957px;width:678px;height:1px;background:#cccccc"></div>
<div class="bx" style="left:641px;top:977px;width:678px;height:1px;background:#ececec"></div>
<div class="tx tl" style="left:603px;top:954.14px;font-size:12px;line-height:12px;color:#3a4350;font-weight:normal;">14:00</div>
<div class="bx" style="left:641px;top:997px;width:678px;height:1px;background:#cccccc"></div>
<div class="bx" style="left:641px;top:1017px;width:678px;height:1px;background:#ececec"></div>
<div class="tx tl" style="left:603px;top:994.14px;font-size:12px;line-height:12px;color:#3a4350;font-weight:normal;">15:00</div>
<div class="bx" style="left:641px;top:1037px;width:678px;height:1px;background:#cccccc"></div>
<div class="bx" style="left:641px;top:1057px;width:678px;height:1px;background:#ececec"></div>
<div class="tx tl" style="left:603px;top:1034.14px;font-size:12px;line-height:12px;color:#3a4350;font-weight:normal;">16:00</div>
<div class="bx" style="left:641px;top:1077px;width:678px;height:1px;background:#cccccc"></div>
<div class="bx" style="left:641px;top:1097px;width:678px;height:1px;background:#ececec"></div>
<div class="tx tl" style="left:603px;top:1074.14px;font-size:12px;line-height:12px;color:#3a4350;font-weight:normal;">17:00</div>
<div class="bx" style="left:641px;top:380px;width:1px;height:700px;background:#cccccc"></div>
<div class="bx" style="left:742px;top:380px;width:1px;height:700px;background:#cccccc"></div>
<div class="bx" style="left:843px;top:380px;width:1px;height:700px;background:#cccccc"></div>
<div class="bx" style="left:944px;top:380px;width:1px;height:700px;background:#cccccc"></div>
<div class="bx" style="left:1045px;top:380px;width:1px;height:700px;background:#cccccc"></div>
<div class="bx" style="left:1146px;top:380px;width:1px;height:700px;background:#cccccc"></div>
<div class="bx" style="left:1247px;top:380px;width:1px;height:700px;background:#cccccc"></div>
<div class="bx" style="left:947px;top:522px;width:96px;height:16px;border-radius:3px;background:#80e080"></div>
<div class="tx ev" style="left:950px;top:524.69px;font-size:11px;line-height:11px;color:#222;font-weight:bold;letter-spacing:-0.450px;">03:30 - 04:00</div>
<div class="bx" style="left:846px;top:582px;width:96px;height:16px;border-radius:3px;background:#80e080"></div>
<div class="tx ev" style="left:849px;top:584.69px;font-size:11px;line-height:11px;color:#222;font-weight:bold;letter-spacing:-0.450px;">05:00 - 05:30</div>
<div class="bx" style="left:1048px;top:1062px;width:96px;height:16px;border-radius:3px;background:#80e080"></div>
<div class="tx ev" style="left:1051px;top:1064.69px;font-size:11px;line-height:11px;color:#222;font-weight:bold;letter-spacing:-0.450px;">17:00 - 17:30</div>
<div class="bx" style="left:635.5px;top:500.5px;width:186px;height:90px;background:#fff;border:1px solid #d0d0d0;box-shadow:0 2px 5px rgba(0,0,0,.18)"></div>
<div class="tx ev" style="left:652.2px;top:520.19px;font-size:11px;line-height:11px;color:#111;font-weight:bold;letter-spacing:-0.450px;">03:30 - 04:00</div>
<svg class="ic" style="left:782.2px;top:519.3px;width:15.6px;height:15.6px;" viewBox="0 0 16 16" fill="none" stroke="#111" stroke-width="1.9" stroke-linecap="round" stroke-linejoin="round"><path d="M1 1l14 14"/><path d="M15 1l-14 14"/></svg>
<div class="bx" style="left:652px;top:549px;width:66px;height:25px;border-radius:4px;background:#80e080;border:1.5px solid #00e000"></div>
<div class="tx pb" style="left:658.5px;top:555.59px;font-size:11px;line-height:11px;color:#111;font-weight:normal;">Availability</div>
<div class="bx" style="left:722px;top:549px;width:79px;height:25px;border-radius:4px;background:#e07b7b;border:1.5px solid #ff0000"></div>
<div class="tx pb" style="left:728.5px;top:555.59px;font-size:11px;line-height:11px;color:#111;font-weight:normal;">Unavailability</div>
</body></html>
